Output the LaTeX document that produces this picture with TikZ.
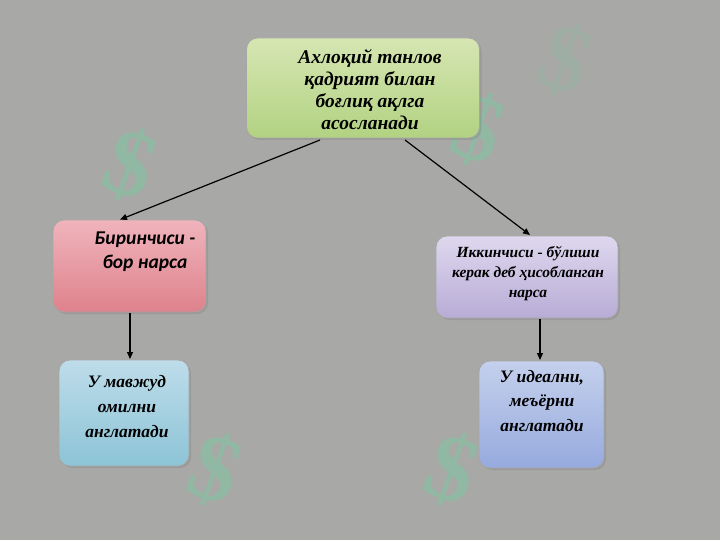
\documentclass[tikz,border=0pt]{standalone}
\usepackage{fontspec}
\setmainfont{Liberation Serif}
\newfontfamily\carl{Carlito}
\usetikzlibrary{shadows,arrows.meta}
\definecolor{bgc}{RGB}{168,168,166}
\definecolor{grnA}{RGB}{214,230,178}
\definecolor{grnB}{RGB}{178,210,130}
\definecolor{pnkA}{RGB}{240,180,188}
\definecolor{pnkB}{RGB}{222,130,140}
\definecolor{purA}{RGB}{222,216,238}
\definecolor{purB}{RGB}{184,172,214}
\definecolor{blA}{RGB}{190,220,234}
\definecolor{blB}{RGB}{140,196,214}
\definecolor{blC}{RGB}{196,208,236}
\definecolor{blD}{RGB}{150,170,222}
\definecolor{wm}{RGB}{110,210,160}
\tikzset{
  boxbase/.style={draw=gray!70, line width=0.8pt, rounded corners=11pt, align=center,
    inner sep=0pt, drop shadow={opacity=0.35, shadow xshift=2pt, shadow yshift=-2pt}},
  conn/.style={-{Triangle[length=7pt,width=6pt]}, line width=1.2pt, black},
  wmark/.style={text=wm, opacity=0.4, inner sep=0pt, font=\bfseries\fontsize{95}{95}\selectfont}
}
\begin{document}
\begin{tikzpicture}[x=1pt,y=-1pt]
\fill[bgc] (0,0) rectangle (720,540);
\useasboundingbox (0,0) rectangle (720,540);
% watermarks
\node[wmark, rotate=-20] (w1) at (130,165) {\$};
\node[wmark, rotate=-20] (w2) at (215,470) {\$};
\node[wmark, rotate=-20] (w3) at (478,130) {\$};
\node[wmark, rotate=-20] (w4) at (452,470) {\$};
\node[wmark, rotate=-20, opacity=0.15] (w5) at (565,60) {\$};
% boxes
\node[boxbase, top color=grnA, bottom color=grnB, minimum width=233pt, minimum height=100pt] (top) at (363,88) {};
\node[font=\bfseries\itshape\fontsize{19.5}{22}\selectfont, align=center] (topt) at (370,90)
  {Ахлоқий танлов\\қадрият билан\\боғлиқ ақлга\\асосланади};
\node[boxbase, top color=pnkA, bottom color=pnkB, minimum width=153pt, minimum height=92pt] (pink) at (129.5,266) {};
\node[font=\carl\bfseries\itshape\fontsize{19.5}{24}\selectfont, align=center] (pinkt) at (145,252) {Биринчиси -\\бор нарса};
\node[boxbase, top color=purA, bottom color=purB, minimum width=182pt, minimum height=82pt] (pur) at (527,277) {};
\node[font=\bfseries\itshape\fontsize{15.5}{20}\selectfont, align=center] (purt) at (528,274)
  {Иккинчиси - бўлиши\\керак деб ҳисобланган\\нарса};
\node[boxbase, top color=blA, bottom color=blB, minimum width=130pt, minimum height=106pt] (bl) at (124,413) {};
\node[font=\bfseries\itshape\fontsize{17.5}{25}\selectfont, align=center] (blt) at (127,407) {У мавжуд\\омилни\\англатади};
\node[boxbase, top color=blC, bottom color=blD, minimum width=125pt, minimum height=107pt] (br) at (541.5,414.5) {};
\node[font=\bfseries\itshape\fontsize{17.5}{24.5}\selectfont, align=center] (brt) at (542,401) {У идеални,\\меъёрни\\англатади};
% connectors
\coordinate (a1) at (320,140);
\coordinate (a2) at (405,140);
\draw[conn] (a1) -- (pink.north -| 120,0);
\draw[conn] (a2) -- (530,235);
\draw[conn] (130,313) -- (130,359);
\draw[conn] (540,319) -- (540,360);
\end{tikzpicture}
\end{document}
